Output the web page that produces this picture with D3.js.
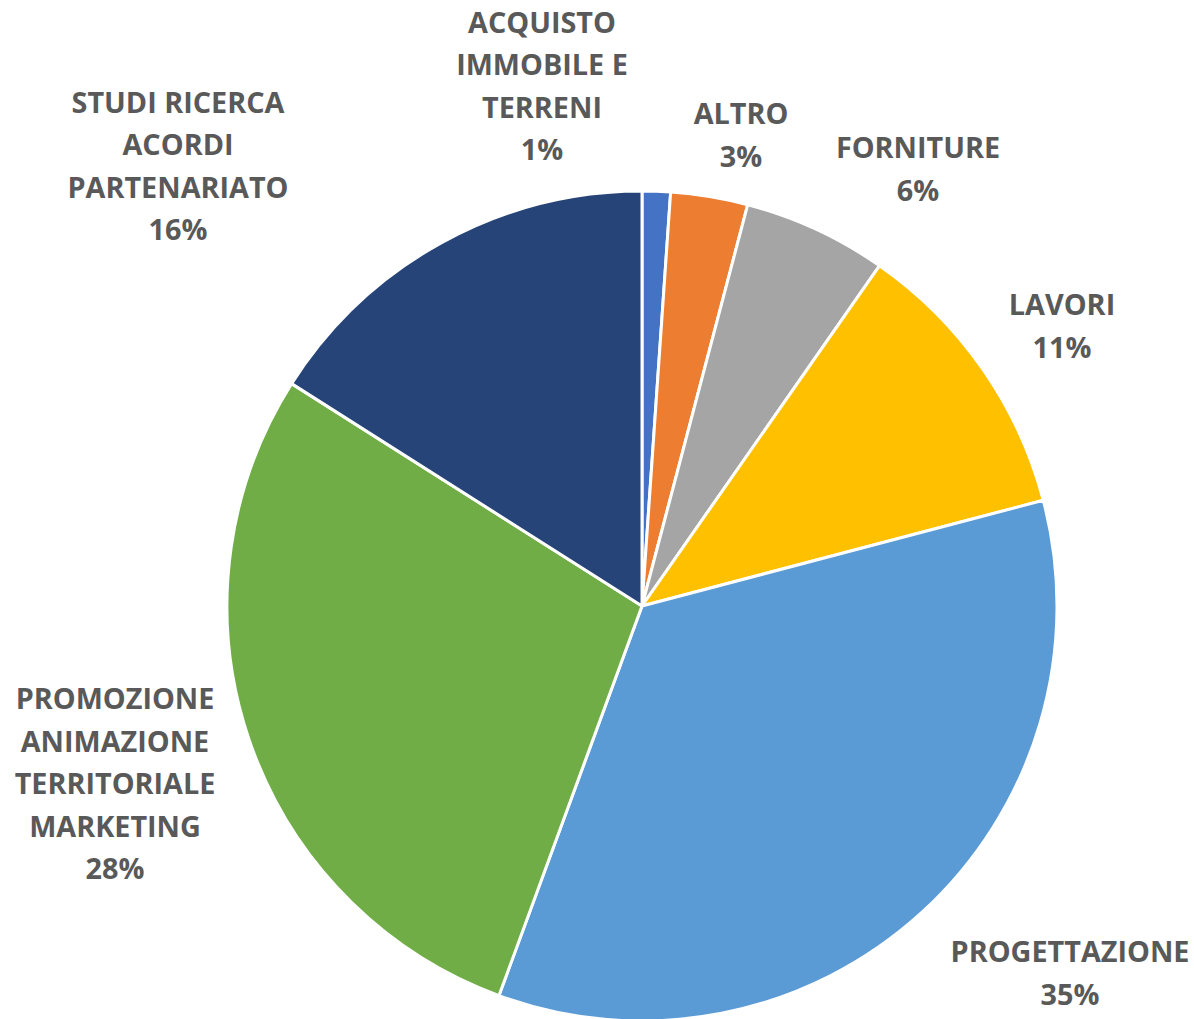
<!DOCTYPE html>
<html>
<head>
<meta charset="utf-8">
<script src="https://cdn.jsdelivr.net/npm/d3@7"></script>
<style>
    body { margin: 0; background: #fff; }
    svg { display: block; }
</style>
</head>
<body>
<div class="vis-pie"></div>
<script>
// Data
const categories = [
    "ACQUISTO IMMOBILE E TERRENI",
    "ALTRO",
    "FORNITURE",
    "LAVORI",
    "PROGETTAZIONE",
    "PROMOZIONE ANIMAZIONE TERRITORIALE MARKETING",
    "STUDI RICERCA ACORDI PARTENARIATO"
];
const values = [1.1, 3.0, 5.6, 11.2, 34.7, 28.4, 16.0];
const labelLines = [
    ["ACQUISTO", "IMMOBILE E", "TERRENI"],
    ["ALTRO"],
    ["FORNITURE"],
    ["LAVORI"],
    ["PROGETTAZIONE"],
    ["PROMOZIONE", "ANIMAZIONE", "TERRITORIALE", "MARKETING"],
    ["STUDI RICERCA", "ACORDI", "PARTENARIATO"]
];
const colors = ["#4472C4", "#ED7D31", "#A5A5A5", "#FFC000", "#5B9BD5", "#70AD47", "#264478"];

// label block centres, relative to pie centre (placed like Excel's best fit)
const labelOffsets = [
    [-100, -520], [99, -471], [276, -437], [420, -280],
    [428, 367], [-527, 178], [-464, -440]
];

const config = {
    "label-color": "#595959",
    "font-size": 28.8,
    "line-height": 42.5
};

const width = 1194, height = 1019;
const cx = 642, cy = 606, radius = 415;

const svg = d3.select(".vis-pie")
    .append("svg")
    .attr("width", width)
    .attr("height", height);

const g = svg.append("g")
    .attr("transform", `translate(${cx},${cy})`);

const data = categories.map((c, i) => ({ name: c, value: values[i], lines: labelLines[i], i: i }));

const pie = d3.pie()
    .value(d => d.value)
    .sort(null);

const arc = d3.arc()
    .innerRadius(0)
    .outerRadius(radius);

const total = d3.sum(values);

g.selectAll(".slice")
    .data(pie(data))
    .enter()
    .append("path")
    .attr("class", "slice")
    .attr("d", arc)
    .attr("fill", d => colors[d.data.i])
    .attr("stroke", "#fff")
    .attr("stroke-width", 3)
    .attr("stroke-linejoin", "round");

// labels
const labels = g.selectAll(".label")
    .data(data)
    .enter()
    .append("text")
    .attr("class", "label")
    .attr("text-anchor", "middle")
    .attr("fill", config["label-color"])
    .style("font-family", "'Open Sans', 'DejaVu Sans', sans-serif")
    .style("font-weight", 700)
    .style("font-size", config["font-size"] + "px")
    .attr("transform", d => `translate(${labelOffsets[d.i][0]},${labelOffsets[d.i][1]})`);

labels.each(function (d) {
    const lines = d.lines.concat([Math.round(d.value / total * 100) + "%"]);
    const n = lines.length;
    d3.select(this).selectAll("tspan")
        .data(lines)
        .enter()
        .append("tspan")
        .attr("x", 0)
        .attr("y", (l, k) => (k - (n - 1) / 2) * config["line-height"])
        .attr("dy", "0.36em")
        .text(l => l);
});
</script>
</body>
</html>
